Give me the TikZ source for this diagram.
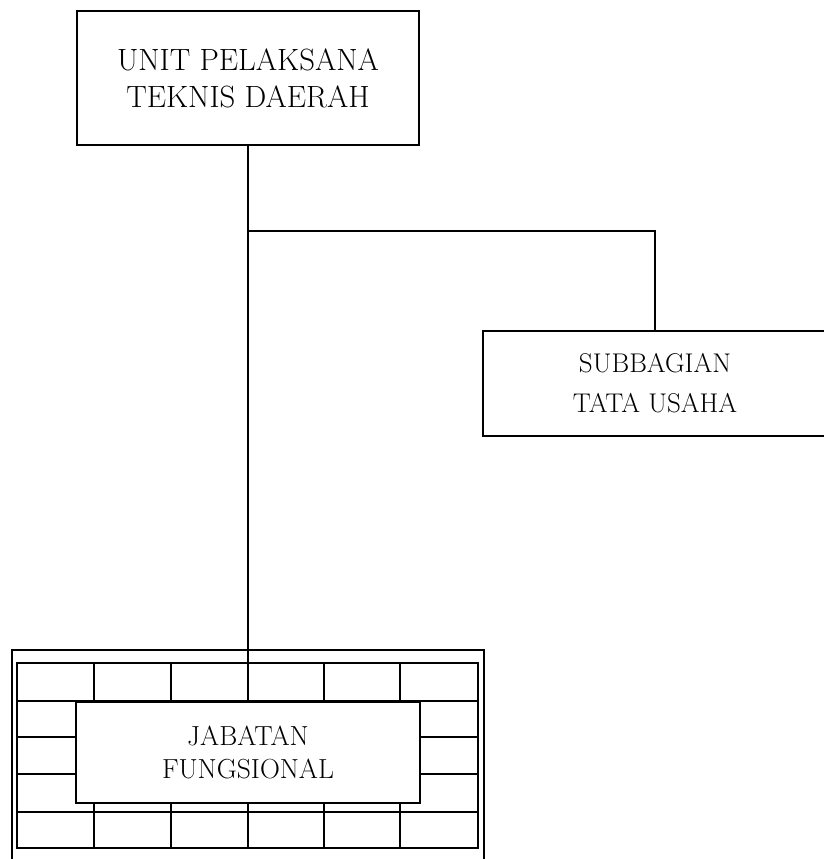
\documentclass[tikz,border=0pt]{standalone}
\usepackage{tikz}
\tikzset{
  kotak/.style={draw, rectangle, line width=1.1pt, align=center, inner sep=0pt},
  garis/.style={line width=1pt},
  bata/.style={line width=0.8pt}
}
\begin{document}
\begin{tikzpicture}[x=0.02cm, y=-0.02cm]
    \useasboundingbox (0,0) rectangle (824,859);
    % kotak-kotak
    \node[kotak, minimum width=6.84cm, minimum height=2.68cm, font=\fontsize{17.5}{21}\selectfont] (uptd) at (248,78) {UNIT PELAKSANA\\TEKNIS DAERAH};
    \node[kotak, minimum width=6.88cm, minimum height=2.1cm, font=\fontsize{15.4}{22.7}\selectfont] (subbag) at (655,383.5) {SUBBAGIAN\\TATA USAHA};
    % dinding bata
    \draw[line width=1.2pt] (12,650) rectangle (484,866);
    \draw[bata] (17,663) rectangle (478,848);
    \draw[bata] (17,701) -- (478,701);
    \draw[bata] (17,812) -- (478,812);
    \foreach \y in {737,774} {
        \draw[bata] (17,\y) -- (77,\y);
        \draw[bata] (421,\y) -- (478,\y);
    }
    \foreach \x in {94,171,324,400} \draw[bata] (\x,663) -- (\x,701);
    \foreach \x in {94,171,248,324,400} \draw[bata] (\x,803) -- (\x,848);
    \node[kotak, fill=white, line width=1.6pt, minimum width=6.88cm, minimum height=2.02cm, font=\fontsize{15.7}{18.8}\selectfont] (jabfung) at (248,752.5) {JABATAN\\FUNGSIONAL};
    % garis komando
    \coordinate (cabang) at (uptd.south |- 0,231);
    \draw[garis] (uptd.south) -- (jabfung.north);
    \draw[garis] (cabang) -| (subbag.north);
\end{tikzpicture}
\end{document}
